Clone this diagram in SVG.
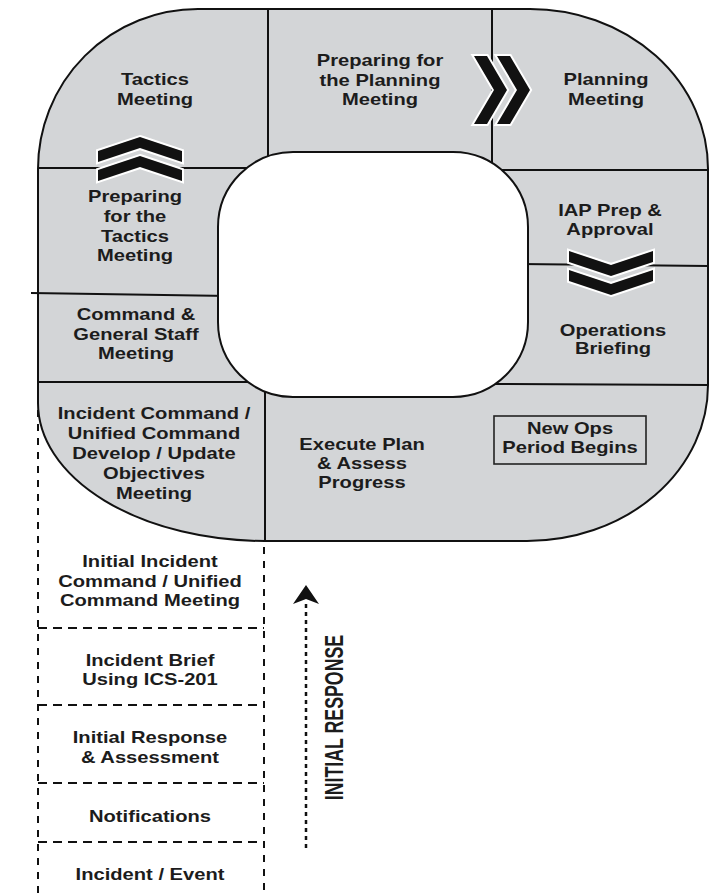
<svg xmlns="http://www.w3.org/2000/svg" xmlns:xlink="http://www.w3.org/1999/xlink" width="713" height="894" viewBox="0 0 713 894">
<style>
.ring{fill:#d3d5d7;stroke:#111;stroke-width:2}
.hole{fill:#fff;stroke:#111;stroke-width:2}
.div{stroke:#111;stroke-width:2;fill:none}
.dashv{stroke:#111;stroke-width:2;fill:none;stroke-dasharray:7 7}
.dashh{stroke:#111;stroke-width:2;fill:none;stroke-dasharray:9 6}
.chev{fill:#111;stroke:#fff;stroke-width:4;stroke-linejoin:miter;paint-order:stroke}
.t{font-family:"Liberation Sans",Arial,Helvetica,sans-serif;font-weight:bold;font-size:16px;text-anchor:middle;fill:#1c1c1c}
.ir{font-family:"Liberation Sans",Arial,Helvetica,sans-serif;font-weight:bold;font-size:25px;text-anchor:middle;fill:#1c1c1c}
</style>
<defs>
<path id="chevUp" class="chev" d="M0,0 L42,14 L42,25 L0,11 L-42,25 L-42,14 Z"/>
<path id="chevRight" class="chev" d="M0,0 L-20,-34 L-33,-34 L-13,0 L-33,34 L-20,34 Z"/>
</defs>
<rect x="0" y="0" width="713" height="894" fill="#fff"/>

<g id="ring">
<path class="ring" d="M198,9 L530,9 A178,160 0 0 1 708,169 L708,385 A181,156 0 0 1 527,541 L265,541 A227,138 0 0 1 38,403 L38,169 A160,160 0 0 1 198,9 Z"/>
</g>

<g id="dividers">
<line class="div" x1="268" y1="9" x2="268" y2="175"/>
<line class="div" x1="492" y1="9" x2="492" y2="175"/>
<line class="div" x1="38" y1="168" x2="260" y2="168"/>
<line class="div" x1="490" y1="170" x2="708" y2="170"/>
<line class="div" x1="31" y1="293" x2="230" y2="296"/>
<line class="div" x1="520" y1="264" x2="708" y2="266"/>
<line class="div" x1="38" y1="382" x2="260" y2="382"/>
<line class="div" x1="490" y1="384" x2="708" y2="385"/>
<line class="div" x1="265" y1="380" x2="265" y2="541"/>
</g>

<g id="hole">
<rect class="hole" x="218" y="152" width="310" height="245" rx="75" ry="75"/>
</g>

<g id="initial-stack-lines">
<line class="dashv" x1="38" y1="410" x2="38" y2="894"/>
<line class="dashv" x1="264" y1="547" x2="264" y2="894"/>
<line class="dashh" x1="38" y1="628" x2="264" y2="628"/>
<line class="dashh" x1="38" y1="705" x2="264" y2="705"/>
<line class="dashh" x1="38" y1="783" x2="264" y2="783"/>
<line class="dashh" x1="38" y1="842" x2="264" y2="842"/>
</g>

<g id="connectors">
<use xlink:href="#chevUp" href="#chevUp" transform="translate(140,137)"/>
<use xlink:href="#chevUp" href="#chevUp" transform="translate(140,156)"/>
<use xlink:href="#chevRight" href="#chevRight" transform="translate(507,90)"/>
<use xlink:href="#chevRight" href="#chevRight" transform="translate(530,90)"/>
<use xlink:href="#chevUp" href="#chevUp" transform="translate(611,276) scale(1,-1)"/>
<use xlink:href="#chevUp" href="#chevUp" transform="translate(611,295) scale(1,-1)"/>
<line x1="306" y1="604" x2="306" y2="851" stroke="#111" stroke-width="2.5" stroke-dasharray="4 4"/>
<path d="M306,585 L319,604 L306,599 L293,604 Z" fill="#111"/>
</g>

<g id="tactics-meeting" transform="translate(155,0) scale(1.26,1)">
<text class="t" x="0" y="85">Tactics</text>
<text class="t" x="0" y="105">Meeting</text>
</g>
<g id="preparing-planning" transform="translate(380,0) scale(1.26,1)">
<text class="t" x="0" y="66">Preparing for</text>
<text class="t" x="0" y="86">the Planning</text>
<text class="t" x="0" y="105">Meeting</text>
</g>
<g id="planning-meeting" transform="translate(606,0) scale(1.26,1)">
<text class="t" x="0" y="85">Planning</text>
<text class="t" x="0" y="105">Meeting</text>
</g>
<g id="preparing-tactics" transform="translate(135,0) scale(1.26,1)">
<text class="t" x="0" y="202">Preparing</text>
<text class="t" x="0" y="222">for the</text>
<text class="t" x="0" y="242">Tactics</text>
<text class="t" x="0" y="261">Meeting</text>
</g>
<g id="cgs-meeting" transform="translate(136,0) scale(1.26,1)">
<text class="t" x="0" y="320">Command &amp;</text>
<text class="t" x="0" y="340">General Staff</text>
<text class="t" x="0" y="359">Meeting</text>
</g>
<g id="iap-prep" transform="translate(610,0) scale(1.26,1)">
<text class="t" x="0" y="216">IAP Prep &amp;</text>
<text class="t" x="0" y="235">Approval</text>
</g>
<g id="ops-briefing" transform="translate(613,0) scale(1.26,1)">
<text class="t" x="0" y="336">Operations</text>
<text class="t" x="0" y="354">Briefing</text>
</g>
<g id="icuc-objectives" transform="translate(154,0) scale(1.26,1)">
<text class="t" x="0" y="419">Incident Command /</text>
<text class="t" x="0" y="439">Unified Command</text>
<text class="t" x="0" y="459">Develop / Update</text>
<text class="t" x="0" y="479">Objectives</text>
<text class="t" x="0" y="499">Meeting</text>
</g>
<g id="execute-plan" transform="translate(362,0) scale(1.26,1)">
<text class="t" x="0" y="450">Execute Plan</text>
<text class="t" x="0" y="469">&amp; Assess</text>
<text class="t" x="0" y="488">Progress</text>
</g>
<g id="new-ops">
<rect x="494" y="416" width="152" height="48" fill="none" stroke="#222" stroke-width="1.6"/>
<g transform="translate(570,0) scale(1.26,1)">
<text class="t" x="0" y="434">New Ops</text>
<text class="t" x="0" y="453">Period Begins</text>
</g>
</g>
<g id="initial-icuc" transform="translate(150,0) scale(1.26,1)">
<text class="t" x="0" y="567">Initial Incident</text>
<text class="t" x="0" y="587">Command / Unified</text>
<text class="t" x="0" y="606">Command Meeting</text>
</g>
<g id="incident-brief" transform="translate(150,0) scale(1.26,1)">
<text class="t" x="0" y="666">Incident Brief</text>
<text class="t" x="0" y="685">Using ICS-201</text>
</g>
<g id="initial-response-assessment" transform="translate(150,0) scale(1.26,1)">
<text class="t" x="0" y="743">Initial Response</text>
<text class="t" x="0" y="763">&amp; Assessment</text>
</g>
<g id="notifications" transform="translate(150,0) scale(1.26,1)">
<text class="t" x="0" y="822">Notifications</text>
</g>
<g id="incident-event" transform="translate(150,0) scale(1.26,1)">
<text class="t" x="0" y="880">Incident / Event</text>
</g>
<g id="initial-response-label">
<text class="ir" transform="translate(343,717.5) rotate(-90) scale(0.71,1)" x="0" y="0">INITIAL RESPONSE</text>
</g>
</svg>
